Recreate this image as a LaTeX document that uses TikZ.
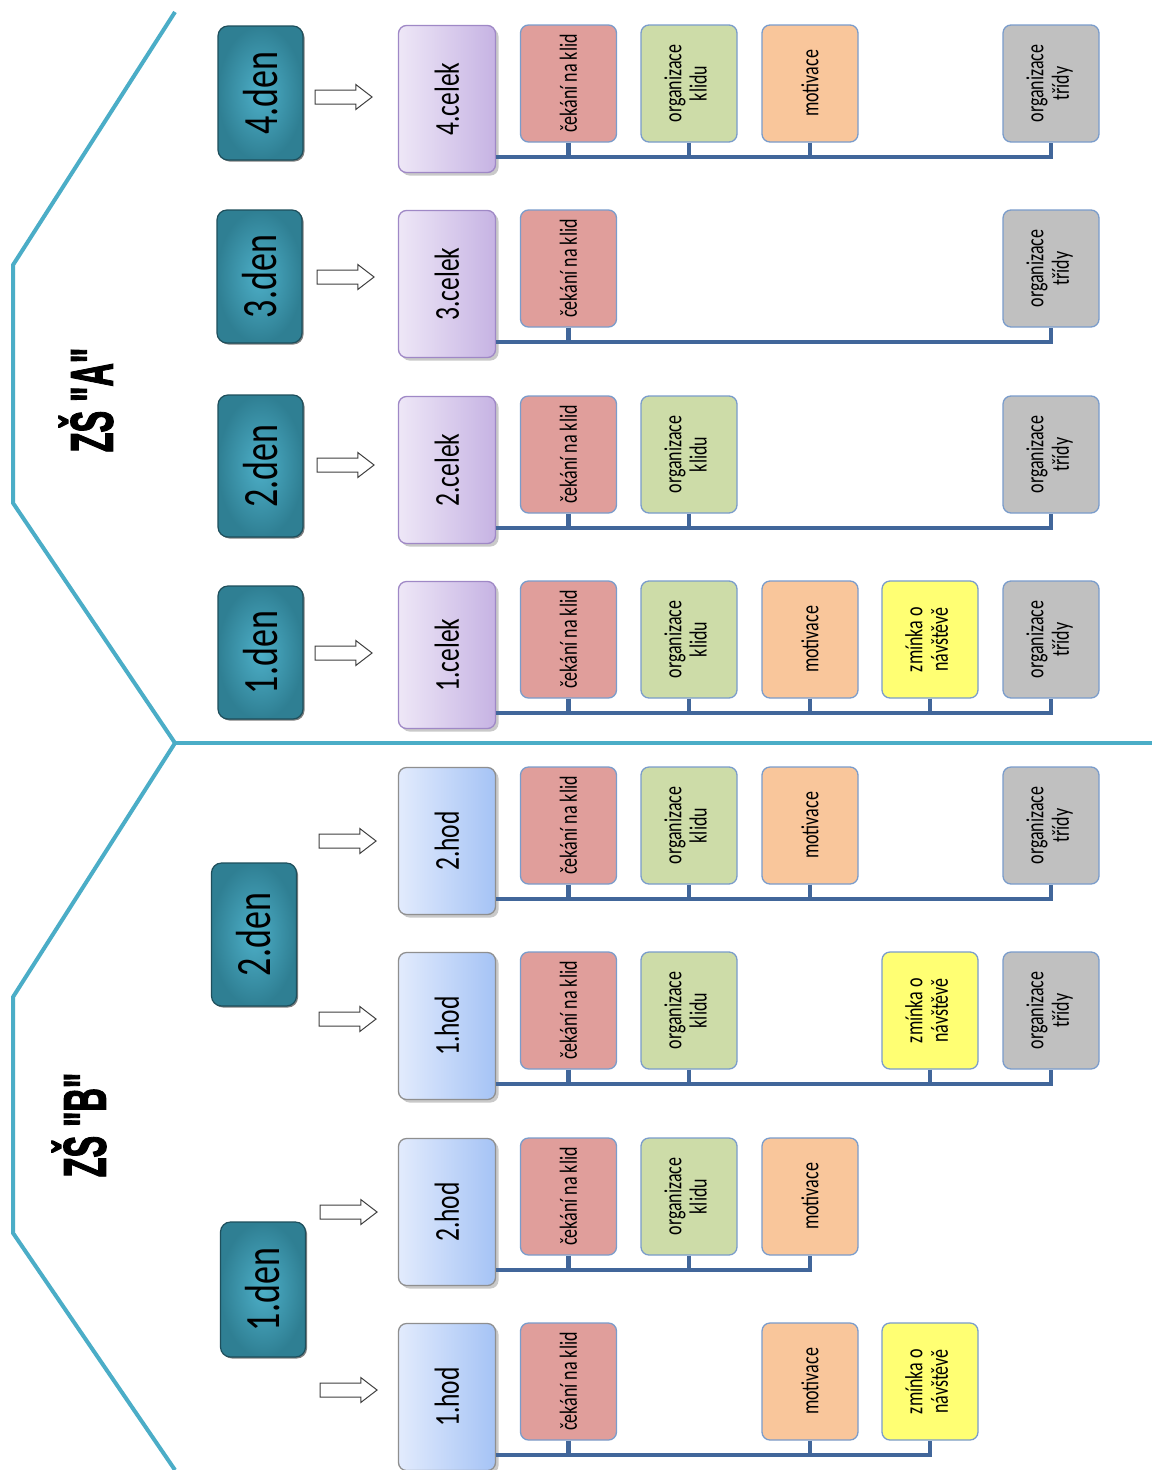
\documentclass[tikz,border=0pt]{standalone}
\usepackage{fontspec}
\setmainfont{Carlito}
\newfontfamily\heavyfont[BoldFeatures={FakeBold=2.5}]{Liberation Sans}
\usetikzlibrary{shapes.arrows,shadows,calc}
\definecolor{cekfill}{HTML}{E09E9B}
\definecolor{klidfill}{HTML}{CDDCA8}
\definecolor{motfill}{HTML}{F9C69B}
\definecolor{zmfill}{HTML}{FFFF73}
\definecolor{trfill}{HTML}{C0C0C0}
\definecolor{boxline}{HTML}{7A9CCB}
\definecolor{celekL}{HTML}{EEE7F7}
\definecolor{celekR}{HTML}{C6B3E3}
\definecolor{celekline}{HTML}{9F88C6}
\definecolor{hodL}{HTML}{E2EBFD}
\definecolor{hodR}{HTML}{A5C3F5}
\definecolor{hodline}{HTML}{8F8F8F}
\definecolor{denC}{HTML}{4DAFC8}
\definecolor{denO}{HTML}{2F7F93}
\definecolor{denD}{HTML}{1E4F5C}
\definecolor{busc}{HTML}{41669A}
\definecolor{chevc}{HTML}{4BADC7}
\definecolor{arrline}{HTML}{404040}
\newcommand\vt[1]{\rotatebox{90}{\scalebox{1}[1.37]{#1}}}
\newcommand\vtt[2]{\rotatebox{90}{\scalebox{1}[1.37]{\begin{tabular}{@{}c@{}}#1\\#2\end{tabular}}}}
\tikzset{
  small/.style={draw=boxline, line width=1.3pt, rounded corners=8pt, minimum width=96pt,
    minimum height=117pt, inner sep=0pt, font=\fontsize{18}{18.5}\selectfont},
  cek/.style={small, fill=cekfill},
  klid/.style={small, fill=klidfill},
  mot/.style={small, fill=motfill},
  zm/.style={small, fill=zmfill},
  tr/.style={small, fill=trfill},
  mainbox/.style={line width=1.3pt, rounded corners=8pt, minimum width=97pt,
    minimum height=147pt, inner sep=0pt, font=\fontsize{25.5}{27}\selectfont,
    drop shadow={shadow xshift=3pt, shadow yshift=-3pt, opacity=0.35, fill=black!60}},
  celek/.style={mainbox, draw=celekline, left color=celekL, right color=celekR},
  hod/.style={mainbox, draw=hodline, left color=hodL, right color=hodR},
  denbox/.style={draw=denD, line width=1.2pt, rounded corners=10pt, minimum width=85pt,
    inner sep=0pt, inner color=denC, outer color=denO, font=\fontsize{36}{40}\selectfont,
    drop shadow={shadow xshift=1.5pt, shadow yshift=-1.5pt, opacity=0.5, fill=black}},
  arr/.style={single arrow, draw=arrline, fill=white, line width=1pt, minimum height=57pt,
    inner xsep=0pt, inner ysep=6.5pt, single arrow head extend=5.5pt, single arrow tip angle=75},
  bus/.style={draw=busc, line width=4.3pt},
  chev/.style={draw=chevc, line width=4pt},
  zs/.style={inner sep=0pt, font=\heavyfont\bfseries\fontsize{60}{60}\selectfont}
}
\begin{document}
\begin{tikzpicture}[x=1pt,y=-1pt]
\useasboundingbox[fill=white] (0,0) rectangle (1152,1470);
% frame lines
\draw[chev] (175,12) -- (13,265) -- (13,503) -- (175,743) -- (13,997) -- (13,1233) -- (175,1470);
\draw[chev] (175,743) -- (1152,743);
% school labels
\node[zs] (za) at (86,400) {\rotatebox{90}{\scalebox{0.54}[1]{ZŠ "A"}}};
\node[zs] (zb) at (79,1125) {\rotatebox{90}{\scalebox{0.54}[1]{ZŠ "B"}}};
% day boxes
\node[denbox, minimum height=134pt] (d4) at (260.5,93) {\vt{4.den}};
\node[denbox, minimum height=133pt] (d3) at (259.5,276.5) {\vt{3.den}};
\node[denbox, minimum height=142pt] (d2) at (260.5,466) {\vt{2.den}};
\node[denbox, minimum height=133pt] (d1) at (260.5,652.5) {\vt{1.den}};
\node[denbox, minimum height=143pt] (e2) at (254,934.5) {\vt{2.den}};
\node[denbox, minimum height=135pt] (e1) at (263,1289.5) {\vt{1.den}};
% arrows
\node[arr] (a1) at (339,97) {};
\node[arr] (a2) at (341,277) {};
\node[arr] (a3) at (341,465) {};
\node[arr] (a4) at (339,653) {};
\node[arr] (a5) at (343,841) {};
\node[arr] (a6) at (343,1019) {};
\node[arr] (a7) at (344,1212) {};
\node[arr] (a8) at (344,1390) {};
% main boxes
\node[celek] (m1) at (447,99) {\vt{4.celek}};
\node[celek] (m2) at (447,284) {\vt{3.celek}};
\node[celek] (m3) at (447,470) {\vt{2.celek}};
\node[celek] (m4) at (447,655) {\vt{1.celek}};
\node[hod] (m5) at (447,841) {\vt{2.hod}};
\node[hod] (m6) at (447,1026) {\vt{1.hod}};
\node[hod] (m7) at (447,1212) {\vt{2.hod}};
\node[hod] (m8) at (447,1397) {\vt{1.hod}};
% row 1
\node[cek] (r1c1) at (568.5,83.5) {\vt{čekání na klid}};
\node[klid] (r1c2) at (689,83.5) {\vtt{organizace}{klidu}};
\node[mot] (r1c3) at (810,83.5) {\vt{motivace}};
\node[tr] (r1c5) at (1051,83.5) {\vtt{organizace}{třídy}};
% row 2
\node[cek] (r2c1) at (568.5,268.5) {\vt{čekání na klid}};
\node[tr] (r2c5) at (1051,268.5) {\vtt{organizace}{třídy}};
% row 3
\node[cek] (r3c1) at (568.5,454.5) {\vt{čekání na klid}};
\node[klid] (r3c2) at (689,454.5) {\vtt{organizace}{klidu}};
\node[tr] (r3c5) at (1051,454.5) {\vtt{organizace}{třídy}};
% row 4
\node[cek] (r4c1) at (568.5,639.5) {\vt{čekání na klid}};
\node[klid] (r4c2) at (689,639.5) {\vtt{organizace}{klidu}};
\node[mot] (r4c3) at (810,639.5) {\vt{motivace}};
\node[zm] (r4c4) at (930,639.5) {\vtt{zmínka o}{návštěvě}};
\node[tr] (r4c5) at (1051,639.5) {\vtt{organizace}{třídy}};
% row 5
\node[cek] (r5c1) at (568.5,825.5) {\vt{čekání na klid}};
\node[klid] (r5c2) at (689,825.5) {\vtt{organizace}{klidu}};
\node[mot] (r5c3) at (810,825.5) {\vt{motivace}};
\node[tr] (r5c5) at (1051,825.5) {\vtt{organizace}{třídy}};
% row 6
\node[cek] (r6c1) at (568.5,1010.5) {\vt{čekání na klid}};
\node[klid] (r6c2) at (689,1010.5) {\vtt{organizace}{klidu}};
\node[zm] (r6c4) at (930,1010.5) {\vtt{zmínka o}{návštěvě}};
\node[tr] (r6c5) at (1051,1010.5) {\vtt{organizace}{třídy}};
% row 7
\node[cek] (r7c1) at (568.5,1196.5) {\vt{čekání na klid}};
\node[klid] (r7c2) at (689,1196.5) {\vtt{organizace}{klidu}};
\node[mot] (r7c3) at (810,1196.5) {\vt{motivace}};
% row 8
\node[cek] (r8c1) at (568.5,1381.5) {\vt{čekání na klid}};
\node[mot] (r8c3) at (810,1381.5) {\vt{motivace}};
\node[zm] (r8c4) at (930,1381.5) {\vtt{zmínka o}{návštěvě}};
% bus lines
\foreach \i in {1,...,8} {\coordinate (b\i) at ($(m\i.south east)+(-0.5,-16)$);}
\draw[bus] (b1) -| (r1c5.south);
\foreach \c in {r1c1,r1c2,r1c3} {\draw[bus] (\c.south) -- (\c.south |- b1);}
\draw[bus] (b2) -| (r2c5.south);
\draw[bus] (r2c1.south) -- (r2c1.south |- b2);
\draw[bus] (b3) -| (r3c5.south);
\foreach \c in {r3c1,r3c2} {\draw[bus] (\c.south) -- (\c.south |- b3);}
\draw[bus] (b4) -| (r4c5.south);
\foreach \c in {r4c1,r4c2,r4c3,r4c4} {\draw[bus] (\c.south) -- (\c.south |- b4);}
\draw[bus] (b5) -| (r5c5.south);
\foreach \c in {r5c1,r5c2,r5c3} {\draw[bus] (\c.south) -- (\c.south |- b5);}
\draw[bus] (b6) -| (r6c5.south);
\foreach \c in {r6c1,r6c2,r6c4} {\draw[bus] (\c.south) -- (\c.south |- b6);}
\draw[bus] (b7) -| (r7c3.south);
\foreach \c in {r7c1,r7c2} {\draw[bus] (\c.south) -- (\c.south |- b7);}
\draw[bus] (b8) -| (r8c4.south);
\foreach \c in {r8c1,r8c3} {\draw[bus] (\c.south) -- (\c.south |- b8);}
\end{tikzpicture}
\end{document}
